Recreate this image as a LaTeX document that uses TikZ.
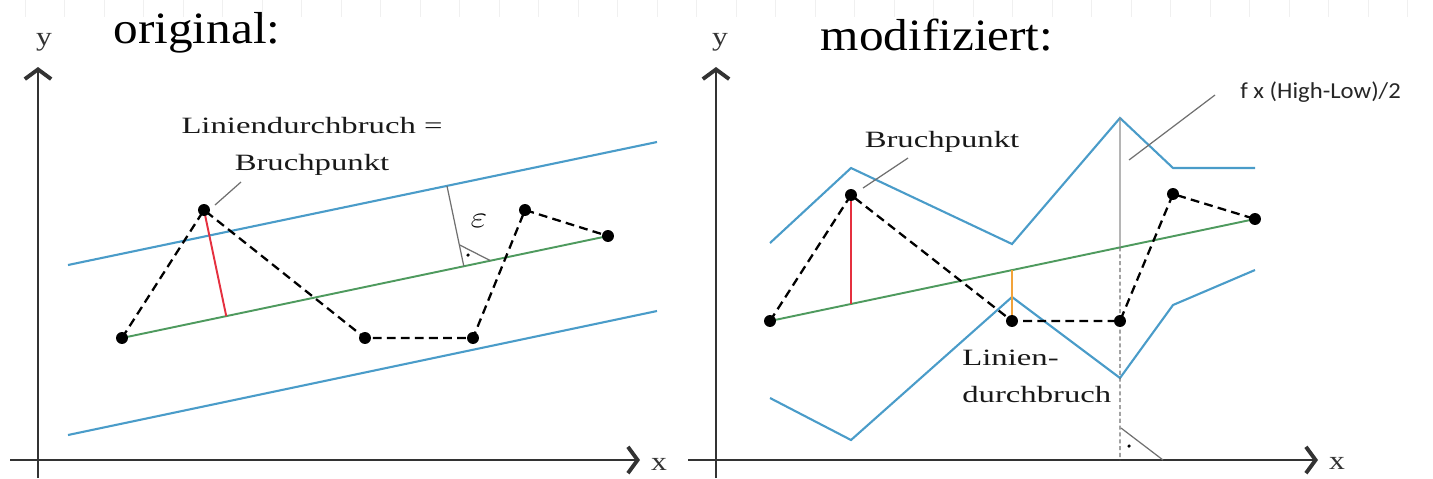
\documentclass[tikz,border=0pt]{standalone}
\usepackage{fontspec}
\setmainfont{Liberation Serif}
\newfontfamily\calfont{Carlito}
\usepackage{graphicx}
\usetikzlibrary{arrows.meta,calc}
\definecolor{bandblue}{HTML}{4A9CC9}
\definecolor{trendgrn}{HTML}{4E9A5E}
\definecolor{brkred}{HTML}{E5303F}
\definecolor{brkorg}{HTML}{F2A33A}
\definecolor{axisc}{HTML}{333333}
\definecolor{leadc}{HTML}{707070}
\newcommand{\wide}[2][1.4]{\scalebox{#1}[1]{#2}}
\tikzset{
  axisline/.style={draw=axisc, line width=1.1pt, -{Straight Barb[length=5.5pt,width=15pt,line width=2.2pt]}},
  band/.style={draw=bandblue, line width=1.2pt},
  trend/.style={draw=trendgrn, line width=1.1pt},
  walk/.style={draw=black, line width=1.3pt, dash pattern=on 5pt off 3pt},
  lead/.style={draw=leadc, line width=0.7pt},
  guide/.style={draw=leadc, line width=0.6pt, dash pattern=on 2.3pt off 1.6pt},
  lbl/.style={font=\fontsize{13.3}{21}\selectfont, inner sep=0pt, text=black!90},
  ttl/.style={font=\fontsize{25.5}{30}\selectfont, inner sep=0pt},
  axlbl/.style={font=\fontsize{15}{18}\selectfont, inner sep=0pt, text=black!80},
}

\begin{document}
\begin{tikzpicture}[x=0.02cm, y=-0.02cm]
  \useasboundingbox (0,0) rectangle (1433,478);
  % faint ruler ticks along the top edge
  \foreach \i in {0,...,35} \draw[gray!12, line width=0.5pt] (25+39.5*\i,0) -- ++(0,17);

  % ---------- original ----------
  \node[ttl, anchor=base] (t1) at (197,43) {\wide[1.1]{original:}};
  \draw[axisline] (10,460) -- (640,460);
  \draw[axisline] (38,478) -- (38,67);
  \node[axlbl, anchor=base] (ya) at (44,45) {\wide[1.2]{y}};
  \node[axlbl, anchor=base] (xa) at (659,470) {\wide[1.2]{x}};

  \coordinate (a1) at (122,338);
  \coordinate (a2) at (204,210);
  \coordinate (a3) at (365,338);
  \coordinate (a4) at (473,338);
  \coordinate (a5) at (525,210);
  \coordinate (a6) at (608,236);

  \draw[band] (68,265) -- (657,142);
  \draw[band] (68,435) -- (657,311);
  \draw[trend] (a1) -- (a6);
  \draw[brkred, line width=1.1pt] (a2) -- ($(a1)!(a2)!(a6)$);

  % epsilon distance
  \coordinate (e1) at (447,186);
  \coordinate (e0) at ($(a1)!(e1)!(a6)$);
  \draw[lead] (e1) -- (e0);
  \draw[lead] ($(e0)!12.5pt!(e1)$) -- ($(e0)!15.5pt!(a6)$);
  \fill (468,255) circle (1pt);
  \node[lbl, font=\fontsize{16}{19}\selectfont, text=black, anchor=base] (eps) at (479,227) {\wide[1.2]{$\varepsilon$}};

  \draw[walk] (a1) -- (a2) -- (a3) -- (a4) -- (a5) -- (a6);
  \foreach \p in {a1,a2,a3,a4,a5,a6} \fill (\p) circle (3.4pt);

  \node[lbl, align=center, anchor=base] (lb1) at (312,170) {\wide{Liniendurchbruch =}\\\wide{Bruchpunkt}};
  \draw[lead] (215,205) -- (241,182);

  % ---------- modifiziert ----------
  \node[ttl, anchor=base] (t2) at (937,50) {\wide[1.1]{modifiziert:}};
  \draw[axisline] (688,460) -- (1318,460);
  \draw[axisline] (716,478) -- (716,67);
  \node[axlbl, anchor=base] (yb) at (720,45) {\wide[1.2]{y}};
  \node[axlbl, anchor=base] (xb) at (1337,469) {\wide[1.2]{x}};

  \coordinate (b1) at (770,321);
  \coordinate (b2) at (851,195);
  \coordinate (b3) at (1012,321);
  \coordinate (b4) at (1120,321);
  \coordinate (b5) at (1173,194);
  \coordinate (b6) at (1255,219);

  \draw[band] (770,243) -- (851,168) -- (1012,244) -- (1120,118) -- (1173,168) -- (1255,168);
  \draw[band] (770,398) -- (851,440) -- (1012,297) -- (1120,378) -- (1173,305) -- (1255,270);
  \draw[trend] (b1) -- (b6);
  \draw[brkred, line width=1.1pt] (b2) -- ($(b1)!0.167!(b6)$);
  \draw[brkorg, line width=1.1pt] ($(b1)!0.499!(b6)$) -- (b3);

  % high-low marker
  \coordinate (pk) at (1120,118);
  \coordinate (g3) at ($(b1)!0.7216!(b6)$);
  \coordinate (bx) at (1120,460);
  \draw[leadc!80, line width=0.8pt] (pk) -- (g3);
  \draw[guide] (g3) -- (bx);
  \draw[lead] (1121,428) -- (1163,460);
  \fill (1129,446) circle (1pt);

  \draw[walk] (b1) -- (b2) -- (b3) -- (b4) -- (b5) -- (b6);
  \foreach \p in {b1,b2,b3,b4,b5,b6} \fill (\p) circle (3.4pt);

  \node[lbl, anchor=base] (lb2) at (942,147) {\wide{Bruchpunkt}};
  \draw[lead] (863,188) -- (908,158);
  \node[lbl, align=left, anchor=base west] (lb3) at (962,402) {\wide{Linien-}\\\wide{durchbruch}};
  \node[inner sep=0pt, anchor=base west, font=\calfont\fontsize{13}{15}\selectfont, text=black!85] (lb4) at (1240,98) {\wide[1.08]{f x (High-Low)/2}};
  \draw[lead] (1129,160) -- (1215,95);
\end{tikzpicture}
\end{document}
